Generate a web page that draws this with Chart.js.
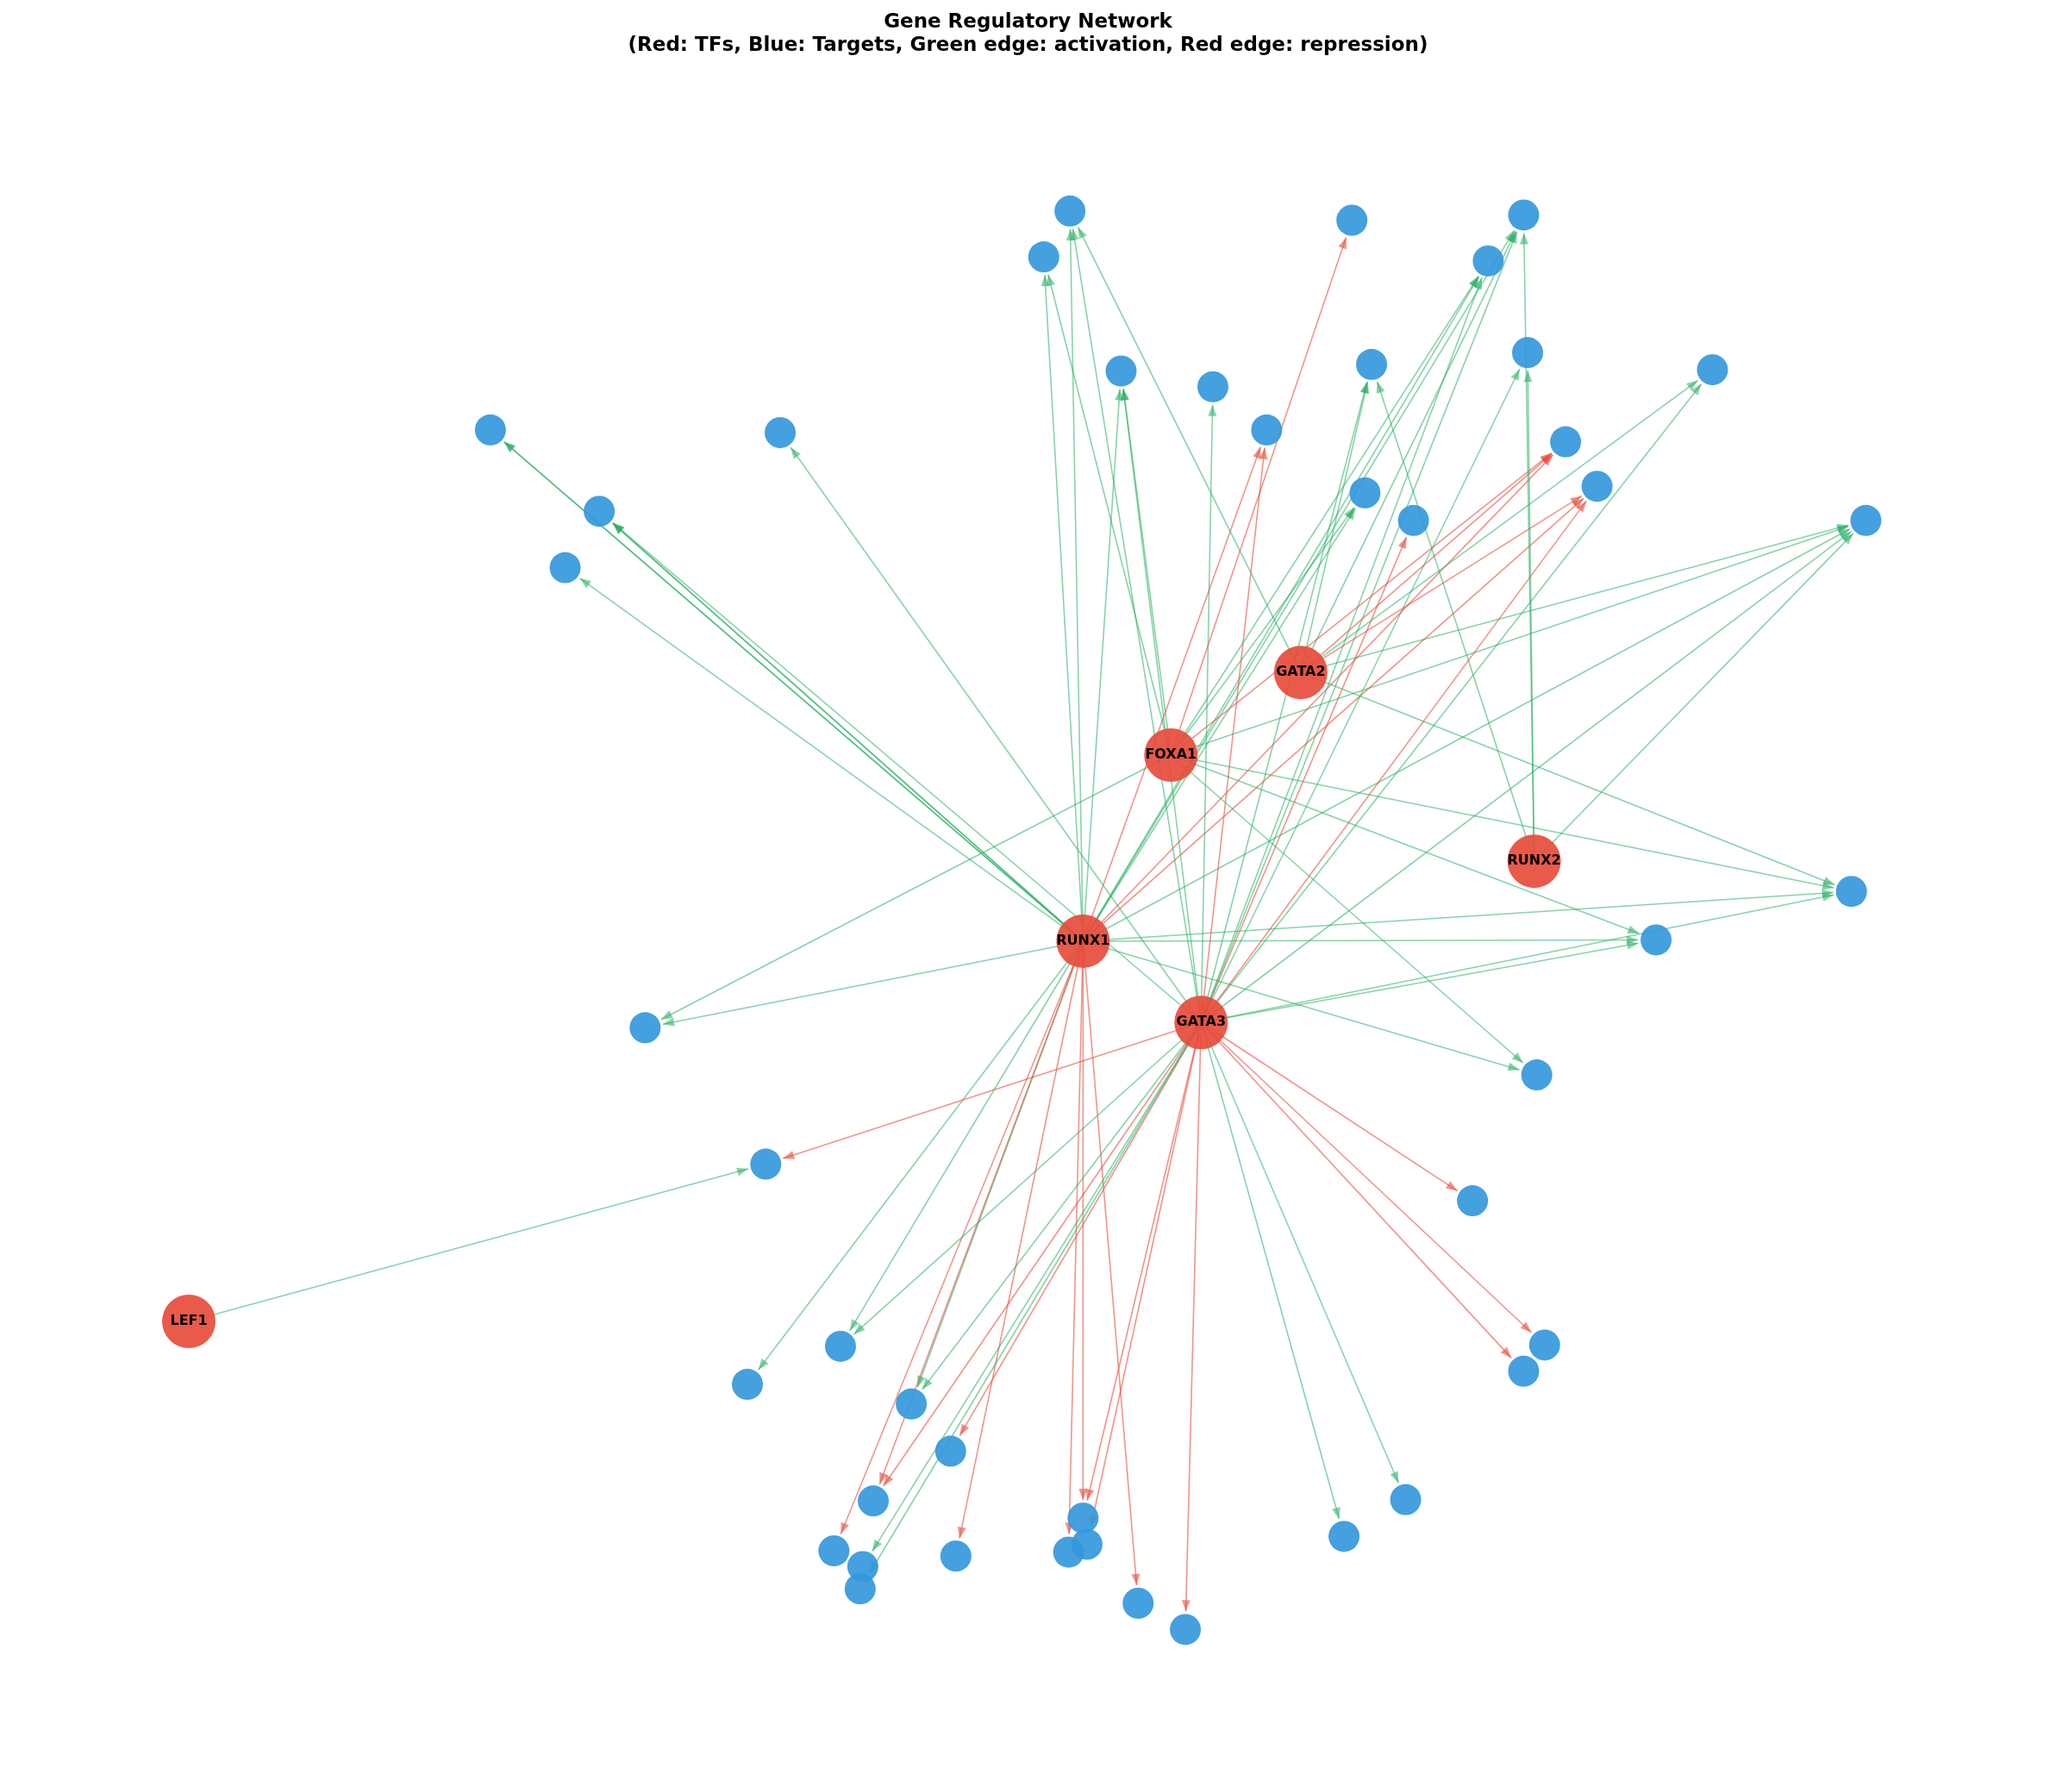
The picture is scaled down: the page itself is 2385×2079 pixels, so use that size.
<!DOCTYPE html>
<html>
<head>
<script src="https://cdn.jsdelivr.net/npm/chart.js@4/dist/chart.umd.min.js"></script>
<style>
body { margin:0; background:#fff; }
canvas { display:block; }
</style>
</head>
<body>
<canvas id="net" width="2385" height="2079" style="width:2385px;height:2079px"></canvas>
<script>
// node positions (layout units, y grows downward)
var tfNames = ["RUNX1", "GATA3", "FOXA1", "GATA2", "RUNX2", "LEF1"];
var tfX = [826, 916, 893, 992, 1170, 144];
var tfY = [718, 780, 576, 513, 657, 1008];

var targetX = [816, 796, 1031, 1162, 1135, 855, 925, 966, 1046, 1165, 1306, 1194, 1218, 1041, 1078, 1423, 374, 595, 457, 431, 1412, 1263, 492, 1172, 584, 1123, 1178, 1162, 641, 570, 695, 725, 666, 826, 829, 815, 636, 658, 656, 729, 868, 904, 1025, 1072];
var targetY = [161, 196, 168, 164, 199, 283, 295, 328, 278, 269, 282, 337, 371, 376, 397, 397, 328, 330, 390, 433, 680, 717, 784, 820, 888, 916, 1026, 1046, 1027, 1056, 1071, 1107, 1145, 1158, 1178, 1184, 1183, 1195, 1212, 1187, 1223, 1243, 1172, 1144];

// edges: [tf index, target index (1-based), "a" activation / "r" repression]
var edges = [
  [0,17,"a"],[0,19,"a"],[0,20,"a"],[0,23,"a"],[0,21,"a"],[0,1,"a"],[0,2,"a"],[0,6,"a"],
  [0,5,"a"],[0,4,"a"],[0,14,"a"],[0,16,"a"],[0,8,"r"],[0,12,"r"],[0,13,"r"],[0,29,"a"],
  [0,30,"a"],[0,31,"a"],[0,34,"r"],[0,36,"r"],[0,37,"r"],[0,40,"r"],[0,41,"r"],[0,33,"r"],
  [0,22,"a"],[0,24,"a"],[0,19,"a"],[0,17,"a"],
  [1,18,"a"],[1,19,"a"],[1,1,"a"],[1,7,"a"],[1,9,"a"],[1,10,"a"],[1,5,"a"],[1,16,"a"],
  [1,11,"a"],[1,22,"a"],[1,21,"a"],[1,15,"r"],[1,13,"r"],[1,8,"r"],[1,25,"r"],[1,26,"r"],
  [1,27,"r"],[1,28,"r"],[1,43,"a"],[1,44,"a"],[1,42,"r"],[1,35,"r"],[1,34,"r"],[1,32,"r"],
  [1,33,"r"],[1,38,"a"],[1,39,"a"],[1,31,"a"],[1,29,"a"],[1,6,"a"],[1,4,"a"],
  [2,3,"r"],[2,2,"a"],[2,6,"a"],[2,14,"a"],[2,23,"a"],[2,21,"a"],[2,22,"a"],[2,24,"a"],
  [2,5,"a"],[2,12,"r"],[2,16,"a"],
  [3,1,"a"],[3,11,"a"],[3,12,"r"],[3,13,"r"],[3,4,"a"],[3,16,"a"],[3,21,"a"],[3,9,"a"],
  [4,10,"a"],[4,4,"a"],[4,16,"a"],[4,9,"a"],
  [5,25,"a"]
];

var titleLines = ["Gene Regulatory Network", "(Red: TFs, Blue: Targets, Green edge: activation, Red edge: repression)"];

var tfPoints = tfX.map(function(x, i){ return {x:x, y:tfY[i]}; });
var targetPoints = targetX.map(function(x, i){ return {x:x, y:targetY[i]}; });

var TF_R = 31, TG_R = 18;

var edgePlugin = {
  id: "edges",
  beforeDatasetsDraw: function(chart) {
    var ctx = chart.ctx, xs = chart.scales.x, ys = chart.scales.y;
    ctx.save();
    edges.forEach(function(e) {
      var x1 = xs.getPixelForValue(tfX[e[0]]), y1 = ys.getPixelForValue(tfY[e[0]]);
      var x2 = xs.getPixelForValue(targetX[e[1]-1]), y2 = ys.getPixelForValue(targetY[e[1]-1]);
      var dx = x2 - x1, dy = y2 - y1, L = Math.sqrt(dx*dx + dy*dy);
      var ux = dx / L, uy = dy / L;
      var ex = x2 - ux * (TG_R + 3), ey = y2 - uy * (TG_R + 3);
      var col = e[2] == "a" ? "rgba(39,174,96,0.55)" : "rgba(231,76,60,0.6)";
      ctx.strokeStyle = col; ctx.fillStyle = col; ctx.lineWidth = 1.6;
      ctx.beginPath(); ctx.moveTo(x1, y1); ctx.lineTo(ex, ey); ctx.stroke();
      var ah = 13, aw = 5;
      ctx.beginPath();
      ctx.moveTo(ex, ey);
      ctx.lineTo(ex - ux*ah - uy*aw, ey - uy*ah + ux*aw);
      ctx.lineTo(ex - ux*ah + uy*aw, ey - uy*ah - ux*aw);
      ctx.closePath(); ctx.fill();
    });
    ctx.restore();
  },
  afterDatasetsDraw: function(chart) {
    var ctx = chart.ctx, xs = chart.scales.x, ys = chart.scales.y;
    ctx.save();
    ctx.fillStyle = "#000";
    ctx.textAlign = "center"; ctx.textBaseline = "middle";
    ctx.font = "bold 16px 'DejaVu Sans'";
    tfNames.forEach(function(n, i){
      ctx.fillText(n, xs.getPixelForValue(tfX[i]), ys.getPixelForValue(tfY[i]));
    });
    ctx.font = "bold 23px 'DejaVu Sans'";
    ctx.fillText(titleLines[0], chart.width/2, 26);
    ctx.fillText(titleLines[1], chart.width/2, 53);
    ctx.restore();
  }
};

new Chart(document.getElementById("net"), {
  type: "scatter",
  data: {
    datasets: [
      { data: targetPoints, pointRadius: TG_R, pointBackgroundColor: "rgba(52,152,219,0.92)", pointBorderColor: "rgba(52,152,219,0.92)", pointBorderWidth: 0 },
      { data: tfPoints, pointRadius: TF_R, pointBackgroundColor: "rgba(231,76,60,0.92)", pointBorderColor: "rgba(231,76,60,0.92)", pointBorderWidth: 0 }
    ]
  },
  options: {
    responsive: false,
    animation: false,
    devicePixelRatio: 1,
    layout: { padding: 0, autoPadding: false },
    plugins: { legend: { display: false }, tooltip: { enabled: false } },
    scales: {
      x: { type: "linear", min: 0, max: 1568, display: false },
      y: { type: "linear", min: 0, max: 1367, reverse: true, display: false }
    }
  },
  plugins: [edgePlugin]
});
</script>
</body>
</html>
